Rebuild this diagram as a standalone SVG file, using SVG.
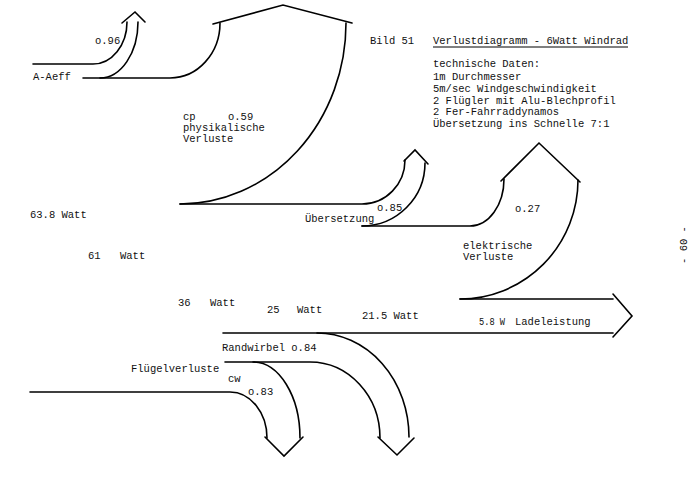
<svg xmlns="http://www.w3.org/2000/svg" width="694" height="478" viewBox="0 0 694 478">
<style>
.ln{fill:none;stroke:#000;stroke-width:1.6;stroke-linecap:round;stroke-linejoin:miter}
.t{font-family:"Liberation Mono","DejaVu Sans Mono",monospace;font-size:10.5px;fill:#111}
</style>
<rect width="694" height="478" fill="#fff"/>
<g id="connectors">
<g id="arrow-096">
<path class="ln" d="M33 64 H93 A34 42 0 0 0 127 22"/>
<path class="ln" d="M100 78 A38 56 0 0 0 138 22"/>
<path class="ln" d="M122 23 L135 12 L145 22"/>
</g>
<g id="arrow-cp">
<path class="ln" d="M83 78 H170 A50 55 0 0 0 220 23"/>
<path class="ln" d="M180 204 A166 181 0 0 0 346 23"/>
<path class="ln" d="M213 24 L283 5 L352 23"/>
</g>
<g id="arrow-085">
<path class="ln" d="M180 204 H362 A43 44 0 0 0 405 160"/>
<path class="ln" d="M362 226 A63 63 0 0 0 425 163"/>
<path class="ln" d="M404 161 L415 150 L428 164"/>
</g>
<g id="arrow-027">
<path class="ln" d="M362 226 H470 A34 47 0 0 0 504 179"/>
<path class="ln" d="M460 299 A118 119 0 0 0 578 180"/>
<path class="ln" d="M501 181 L539 143 L580 182"/>
</g>
<g id="arrow-out">
<path class="ln" d="M460 299 H613"/>
<path class="ln" d="M223 333 H613"/>
<path class="ln" d="M613 294 L632 316 L613 337"/>
</g>
<g id="arrow-084">
<path class="ln" d="M317 333 A92 104 0 0 1 409 437"/>
<path class="ln" d="M225 362 H310 A70 76 0 0 1 380 438"/>
<path class="ln" d="M378 437 L397 455 L414 438"/>
</g>
<g id="arrow-083">
<path class="ln" d="M30 392 H230 A37 46 0 0 1 267 438"/>
<path class="ln" d="M253 362 A47 76 0 0 1 300 438"/>
<path class="ln" d="M265 437 L284 456 L303 437"/>
</g>
</g>
<g id="labels">
<text class="t" x="95" y="44">o.96</text>
<text class="t" x="33" y="80">A-Aeff</text>
<text class="t" x="370" y="44">Bild 51</text>
<text class="t" x="433" y="44">Verlustdiagramm - 6Watt Windrad</text>
<line x1="433" y1="47" x2="628" y2="47" stroke="#000" stroke-width="1"/>
<text class="t" x="433" y="67">technische Daten:</text>
<text class="t" x="433" y="80">1m Durchmesser</text>
<text class="t" x="433" y="92">5m/sec Windgeschwindigkeit</text>
<text class="t" x="433" y="104">2 Flügler mit Alu-Blechprofil</text>
<text class="t" x="433" y="115">2 Fer-Fahrraddynamos</text>
<text class="t" x="433" y="127">Übersetzung ins Schnelle 7:1</text>
<text class="t" x="183" y="120">cp</text>
<text class="t" x="228" y="120">o.59</text>
<text class="t" x="183" y="131">physikalische</text>
<text class="t" x="183" y="142">Verluste</text>
<text class="t" x="377" y="211">o.85</text>
<text class="t" x="305" y="222">Übersetzung</text>
<text class="t" x="515" y="212">o.27</text>
<text class="t" x="30" y="218">63.8 Watt</text>
<text class="t" x="88" y="259">61</text>
<text class="t" x="120" y="259">Watt</text>
<text class="t" x="463" y="249">elektrische</text>
<text class="t" x="463" y="260">Verluste</text>
<text class="t" x="178" y="306">36</text>
<text class="t" x="210" y="306">Watt</text>
<text class="t" x="267" y="313">25</text>
<text class="t" x="297" y="313">Watt</text>
<text class="t" x="362" y="319">21.5 Watt</text>
<text class="t" x="479" y="325" textLength="26" lengthAdjust="spacingAndGlyphs">5.8 W</text>
<text class="t" x="515" y="325">Ladeleistung</text>
<text class="t" x="222" y="351">Randwirbel o.84</text>
<text class="t" x="131" y="372">Flügelverluste</text>
<text class="t" x="228" y="382">cw</text>
<text class="t" x="248" y="395">o.83</text>
<text class="t" transform="translate(687 245) rotate(-90)" text-anchor="middle">- 60 -</text>
</g>
</svg>
